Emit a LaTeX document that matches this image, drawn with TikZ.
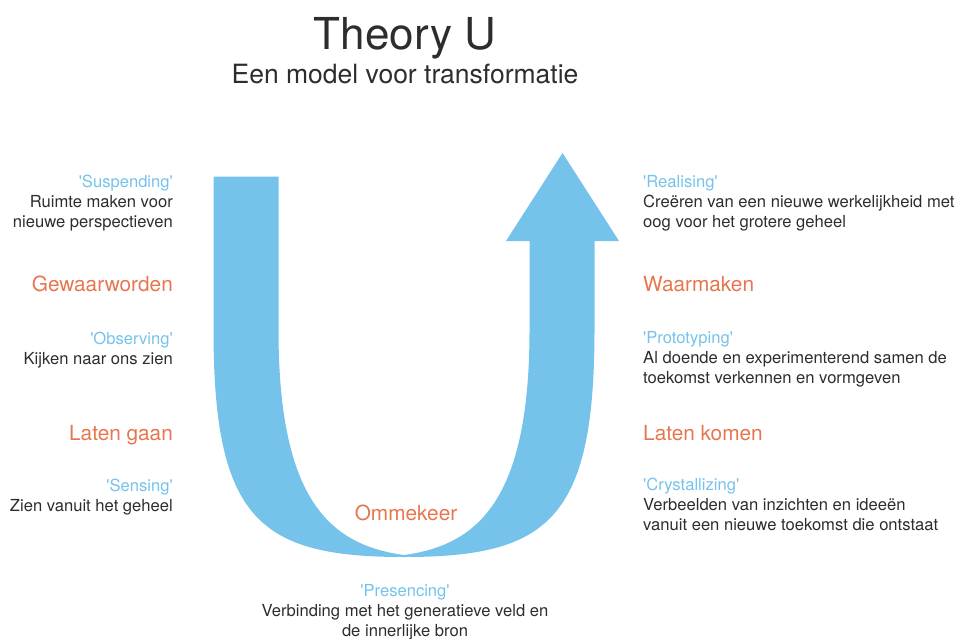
\documentclass[tikz,border=0pt]{standalone}
\usepackage{fontspec}
\setmainfont{TeX Gyre Heros}
\usepackage{xcolor}
\usepackage{tikz}
\definecolor{ublue}{RGB}{117,195,234}
\definecolor{uorange}{RGB}{231,118,80}
\definecolor{utext}{RGB}{45,45,45}
\tikzset{x=1pt, y=-1pt,
  stage/.style={font=\fontsize{20.8}{24}\selectfont, text=uorange, inner sep=0pt},
  descr/.style={font=\fontsize{16.6}{19.6}\selectfont, text=utext, inner sep=0pt},
  heading/.style={text=utext, inner sep=0pt, anchor=base}}
\newcommand{\phase}[1]{\textcolor{ublue}{\textquotesingle#1\textquotesingle}}

\begin{document}
\begin{tikzpicture}
\useasboundingbox (0,0) rectangle (958,639);
%\draw[help lines] (0,0) grid[step=50pt] (958,639);

% the U arrow
\fill[ublue] (213.5,176.7) -- (213.5,330)
  .. controls (213.5,520) and (260,557) .. (404,557)
  .. controls (548,557) and (594.5,520) .. (594.5,330)
  -- (594.5,241) -- (619,241) -- (562.5,153) -- (506,241) -- (529.5,241) -- (529.5,330)
  .. controls (529.5,500) and (478,545) .. (404,555)
  .. controls (330,545) and (278.5,500) .. (278.5,330) -- (278.5,176.7) -- cycle;

\path (405,50) node(title) [heading,font=\fontsize{44}{50}\selectfont] {Theory U}
(405,84) node(subtitle) [heading,font=\fontsize{26.5}{30}\selectfont] {Een model voor transformatie};

% left side (base = last line)
\path (173,227) node(suspending) [descr,anchor=base east,align=right] {\phase{Suspending}\\Ruimte maken voor\\nieuwe perspectieven}
(173,291) node(gewaar) [stage,anchor=base east] {Gewaarworden}
(173,364) node(observing) [descr,anchor=base east,align=right] {\phase{Observing}\\Kijken naar ons zien}
(173,440) node(latengaan) [stage,anchor=base east] {Laten gaan}
(173,511) node(sensing) [descr,anchor=base east,align=right] {\phase{Sensing}\\Zien vanuit het geheel};

% right side
\path (643,227) node(realising) [descr,anchor=base west,align=left] {\phase{Realising}\\Creëren van een nieuwe werkelijkheid met\\oog voor het grotere geheel}
(643,291) node(waarmaken) [stage,anchor=base west] {Waarmaken}
(643,383) node(prototyping) [descr,anchor=base west,align=left] {\phase{Prototyping}\\Al doende en experimenterend samen de\\toekomst verkennen en vormgeven}
(643,440) node(latenkomen) [stage,anchor=base west] {Laten komen}
(643,530) node(crystallizing) [descr,anchor=base west,align=left] {\phase{Crystallizing}\\Verbeelden van inzichten en ideeën\\vanuit een nieuwe toekomst die ontstaat};

% bottom
\path (406,520) node(ommekeer) [stage,anchor=base] {Ommekeer}
(405,636) node(presencing) [descr,anchor=base,align=center] {\phase{Presencing}\\Verbinding met het generatieve veld en\\de innerlijke bron};
\end{tikzpicture}
\end{document}
